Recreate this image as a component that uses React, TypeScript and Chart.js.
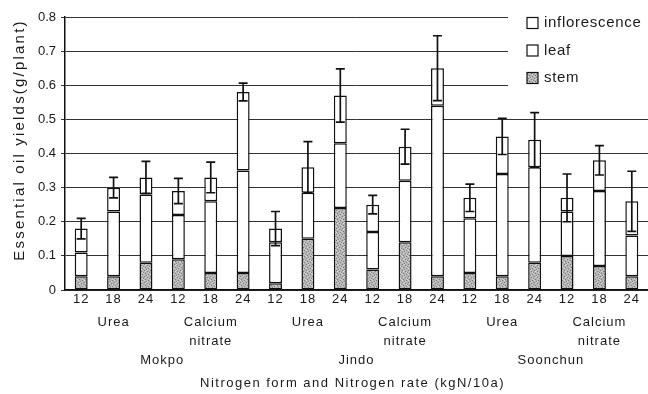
import React, { useEffect, useRef } from "react";
import { Chart, registerables } from "chart.js";

Chart.register(...registerables);

// ---- data ----
const rates = ["12", "18", "24", "12", "18", "24", "12", "18", "24", "12", "18", "24", "12", "18", "24", "12", "18", "24"];
const stem = [0.04, 0.04, 0.08, 0.09, 0.05, 0.05, 0.02, 0.15, 0.24, 0.06, 0.14, 0.04, 0.05, 0.04, 0.08, 0.10, 0.07, 0.04];
const leaf = [0.07, 0.19, 0.20, 0.13, 0.21, 0.30, 0.12, 0.135, 0.19, 0.11, 0.18, 0.50, 0.16, 0.30, 0.28, 0.13, 0.22, 0.12];
const inflorescence = [0.07, 0.07, 0.05, 0.07, 0.07, 0.23, 0.04, 0.075, 0.14, 0.08, 0.10, 0.11, 0.06, 0.11, 0.08, 0.04, 0.09, 0.10];
const errors = [0.03, 0.03, 0.047, 0.037, 0.045, 0.026, 0.05, 0.075, 0.078, 0.027, 0.051, 0.095, 0.04, 0.053, 0.08, 0.07, 0.043, 0.088];
const forms = [["Urea"], ["Calcium", "nitrate"], ["Urea"], ["Calcium", "nitrate"], ["Urea"], ["Calcium", "nitrate"]];
const sites = ["Mokpo", "Jindo", "Soonchun"];
const legendLabels = ["inflorescence", "leaf", "stem"];
const yTitle = "Essential oil yields(g/plant)";
const xTitle = "Nitrogen form and Nitrogen rate (kgN/10a)";

const FONT = '"Liberation Sans", Arial, sans-serif';
const INK = "#1a1a1a";

function makeStipple(ctx: CanvasRenderingContext2D) {
  const c = document.createElement("canvas");
  c.width = 6;
  c.height = 6;
  const g = c.getContext("2d")!;
  g.fillStyle = "#b4b4b4";
  g.fillRect(0, 0, 6, 6);
  g.fillStyle = "#7a7a7a";
  [[0, 0], [3, 1], [1, 3], [4, 4], [2, 5], [5, 2]].forEach(([x, y]) => g.fillRect(x, y, 1, 1));
  g.fillStyle = "#dadada";
  [[2, 0], [5, 3], [0, 4], [3, 5], [1, 1], [4, 2]].forEach(([x, y]) => g.fillRect(x, y, 1, 1));
  return ctx.createPattern(c, "repeat")!;
}

const overlayPlugin = {
  id: "overlay",
  afterDatasetsDraw(chart: any) {
    const ctx = chart.ctx as CanvasRenderingContext2D;
    const meta = chart.getDatasetMeta(2);
    const ys = chart.scales.y;
    ctx.save();
    ctx.strokeStyle = "#111";
    ctx.lineWidth = 1.7;
    for (let i = 0; i < rates.length; i++) {
      const total = stem[i] + leaf[i] + inflorescence[i];
      const x = meta.data[i].x;
      const yt = ys.getPixelForValue(total + errors[i]);
      const yb = ys.getPixelForValue(total - errors[i]);
      ctx.beginPath();
      ctx.moveTo(x, yt);
      ctx.lineTo(x, yb);
      ctx.moveTo(x - 4.5, yt);
      ctx.lineTo(x + 4.5, yt);
      ctx.moveTo(x - 4.5, yb);
      ctx.lineTo(x + 4.5, yb);
      ctx.stroke();
    }
    ctx.restore();
  },
  afterDraw(chart: any) {
    const ctx = chart.ctx as CanvasRenderingContext2D;
    const xs = chart.scales.x;
    const area = chart.chartArea;
    ctx.save();
    // legend
    ctx.fillStyle = "#fff";
    ctx.fillRect(508, 0, 140, 100);
    const fills = ["#fff", "#fff", chart.$stipple];
    legendLabels.forEach((t, k) => {
      const cy = 23 + k * 27.5;
      ctx.fillStyle = fills[k];
      ctx.fillRect(527, cy - 5.5, 11, 11);
      ctx.strokeStyle = "#111";
      ctx.lineWidth = 1.2;
      ctx.strokeRect(527, cy - 5.5, 11, 11);
      ctx.fillStyle = INK;
      ctx.font = `15px ${FONT}`;
      (ctx as any).letterSpacing = "0.7px";
      ctx.textAlign = "left";
      ctx.textBaseline = "middle";
      ctx.fillText(t, 544, cy);
    });
    // x labels
    ctx.fillStyle = INK;
    ctx.textAlign = "center";
    ctx.textBaseline = "middle";
    ctx.font = `13px ${FONT}`;
    (ctx as any).letterSpacing = "1px";
    rates.forEach((r, i) => ctx.fillText(r, xs.getPixelForValue(i), 299));
    forms.forEach((lines, g) => {
      const cx = (xs.getPixelForValue(g * 3) + xs.getPixelForValue(g * 3 + 2)) / 2;
      lines.forEach((l, j) => ctx.fillText(l, cx, 322 + j * 19));
    });
    sites.forEach((s, g) => {
      const cx = (xs.getPixelForValue(g * 6) + xs.getPixelForValue(g * 6 + 5)) / 2;
      ctx.fillText(s, cx, 360);
    });
    ctx.font = `13px ${FONT}`;
    (ctx as any).letterSpacing = "1.5px";
    ctx.fillText(xTitle, (area.left + area.right) / 2 - 4, 383);
    // y title
    ctx.save();
    ctx.translate(20, 140);
    ctx.rotate(-Math.PI / 2);
    ctx.font = `15px ${FONT}`;
    (ctx as any).letterSpacing = "2.2px";
    ctx.fillText(yTitle, 0, 0);
    ctx.restore();
    ctx.restore();
  },
};

export default function App() {
  const ref = useRef<HTMLCanvasElement>(null);
  useEffect(() => {
    const canvas = ref.current!;
    const ctx = canvas.getContext("2d")!;
    const stipple = makeStipple(ctx);
    const common = {
      borderColor: "#111",
      borderWidth: 1.5,
      borderSkipped: false,
      barPercentage: 0.4,
      categoryPercentage: 1,
    };
    const chart: any = new Chart(canvas, {
      type: "bar",
      data: {
        labels: rates,
        datasets: [
          { label: "stem", data: stem, backgroundColor: stipple, ...common },
          { label: "leaf", data: leaf, backgroundColor: "#fff", ...common },
          { label: "inflorescence", data: inflorescence, backgroundColor: "#fff", ...common },
        ],
      } as any,
      options: {
        responsive: false,
        animation: false,
        layout: { padding: { top: 17, right: 0, bottom: 104, left: 0 } },
        plugins: { legend: { display: false }, tooltip: { enabled: false } },
        scales: {
          x: {
            stacked: true,
            grid: { display: false, drawTicks: false },
            border: { display: true, color: "#111", width: 1.5 },
            ticks: { display: false },
            afterFit: (s: any) => {
              s.height = 0;
            },
          },
          y: {
            stacked: true,
            min: 0,
            max: 0.8,
            ticks: {
              stepSize: 0.1,
              color: INK,
              padding: 5,
              font: { family: FONT, size: 13 },
              callback: (v: any) => (Number(v) === 0 ? "0" : Number(v).toFixed(1)),
            },
            grid: { color: "#333", lineWidth: 1, tickLength: 4, drawTicks: true },
            border: { display: true, color: "#111", width: 1.5 },
            afterFit: (s: any) => {
              s.width = 65;
            },
          },
        },
      } as any,
      plugins: [overlayPlugin],
    });
    chart.$stipple = stipple;
    chart.draw();
    return () => chart.destroy();
  }, []);
  return (
    <div style={{ position: "fixed", left: 0, top: 0, width: 648, height: 394, background: "#fff" }}>
      <canvas ref={ref} width={648} height={394} style={{ display: "block" }} />
    </div>
  );
}
